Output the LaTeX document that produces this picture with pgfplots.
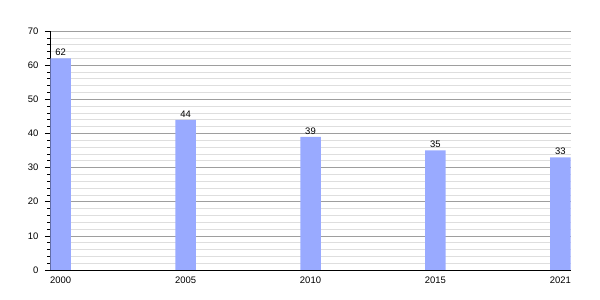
\documentclass[border=0pt]{standalone}
\usepackage{pgfplots}
\pgfplotsset{compat=1.18}
\usepackage{fontspec}
\setmainfont{Liberation Sans}
\definecolor{barc}{RGB}{153,170,255}
\begin{document}
\begin{tikzpicture}
\begin{axis}[
  name=ax,
  scale only axis,
  width=521bp, height=239bp,
  xmin=-0.085, xmax=4.085,
  ymin=0, ymax=70,
  axis x line*=bottom,
  axis y line*=left,
  axis line style={black, line width=0.8pt},
  xtick={0,1,2,3,4},
  xticklabels={2000,2005,2010,2015,2021},
  ytick={0,10,...,70},
  minor y tick num=4,
  tick align=outside,
  major tick length=5bp,
  minor tick length=2.5bp,
  x tick style={draw=none},
  y tick style={black, line width=0.6pt},
  ymajorgrids, yminorgrids,
  major grid style={color=black!38, line width=0.6pt},
  minor grid style={color=black!13, line width=0.6pt},
  tick label style={font=\fontsize{9.5}{11}\selectfont},
  yticklabel style={xshift=-3bp},
  xticklabel style={yshift=2bp},
  /pgf/number format/assume math mode=true,
  ybar, bar width=20.5bp,
  bar shift=0pt,
  nodes near coords,
  nodes near coords style={font=\fontsize{9.5}{11}\selectfont, color=black, yshift=-1bp},
  clip=false,
]
\addplot[fill=barc, draw=none] coordinates {(0,62) (1,44) (2,39) (3,35) (4,33)};
\end{axis}
\pgfresetboundingbox
\path ([xshift=-50bp,yshift=-30bp]ax.south west) rectangle ([xshift=29bp,yshift=31bp]ax.north east);
\end{tikzpicture}
\end{document}
